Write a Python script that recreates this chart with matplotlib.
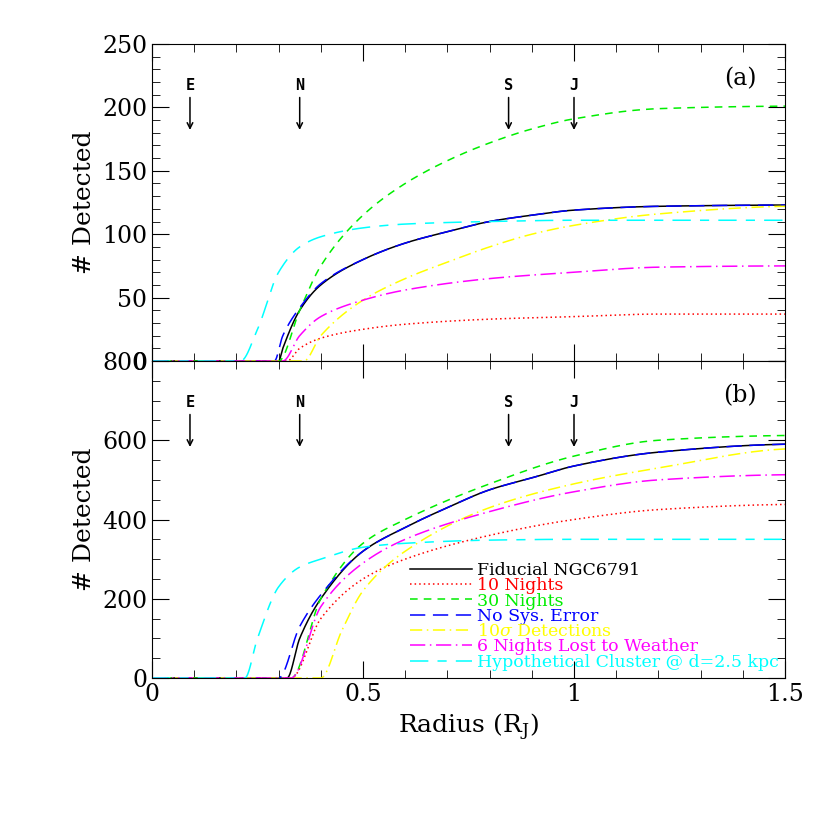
import numpy as np
import matplotlib
matplotlib.use("Agg")
import matplotlib.pyplot as plt
from matplotlib.ticker import MultipleLocator

plt.rcParams["font.family"] = "DejaVu Serif"
plt.rcParams["mathtext.fontset"] = "dejavuserif"

labels = ["Fiducial NGC6791", "10 Nights", "30 Nights", "No Sys. Error",
          r"10$\sigma$ Detections", "6 Nights Lost to Weather",
          "Hypothetical Cluster @ d=2.5 kpc"]
colors = ["black", "red", "#00ee00", "blue", "yellow", "magenta", "cyan"]
styles = ["-", (0, (1, 2)), (0, (5, 4)), (0, (10, 5)), (0, (8, 3, 1, 3)), (0, (10, 3, 1, 3)), (0, (12, 6, 6, 6))]

a_x = [
    [0, 0.30, 0.31, 0.35, 0.4, 0.5, 0.6, 0.7, 0.8, 0.9, 1.0, 1.2, 1.5],
    [0, 0.32, 0.35, 0.4, 0.5, 0.6, 0.8, 1.0, 1.2, 1.5],
    [0, 0.30, 0.35, 0.4, 0.5, 0.6, 0.7, 0.8, 0.9, 1.0, 1.2, 1.5],
    [0, 0.29, 0.31, 0.35, 0.4, 0.5, 0.6, 0.7, 0.8, 0.9, 1.0, 1.2, 1.5],
    [0, 0.36, 0.4, 0.5, 0.6, 0.7, 0.8, 0.9, 1.0, 1.2, 1.5],
    [0, 0.31, 0.35, 0.4, 0.5, 0.6, 0.8, 1.0, 1.2, 1.5],
    [0, 0.21, 0.25, 0.3, 0.35, 0.4, 0.5, 0.6, 0.8, 1.0, 1.5],
]
a_y = [
    [0, 0, 10, 40, 60, 80, 93, 102, 110, 115, 119, 122, 123],
    [0, 0, 10, 18, 25, 29, 33, 35, 37, 37],
    [0, 0, 40, 75, 115, 140, 158, 172, 183, 191, 199, 201],
    [0, 0, 20, 42, 61, 80, 93, 102, 110, 115, 119, 122, 123],
    [0, 0, 20, 48, 65, 78, 90, 100, 107, 116, 122],
    [0, 0, 20, 35, 48, 56, 65, 70, 74, 75],
    [0, 0, 25, 70, 90, 98, 105, 108, 110, 111, 111],
]
b_x = [
    [0, 0.32, 0.35, 0.4, 0.5, 0.6, 0.7, 0.8, 0.9, 1.0, 1.2, 1.5],
    [0, 0.33, 0.4, 0.5, 0.6, 0.8, 1.0, 1.2, 1.5],
    [0, 0.33, 0.4, 0.5, 0.6, 0.8, 1.0, 1.2, 1.5],
    [0, 0.30, 0.35, 0.4, 0.5, 0.6, 0.7, 0.8, 0.9, 1.0, 1.2, 1.5],
    [0, 0.40, 0.45, 0.5, 0.6, 0.8, 1.0, 1.2, 1.5],
    [0, 0.33, 0.4, 0.5, 0.6, 0.8, 1.0, 1.2, 1.5],
    [0, 0.22, 0.25, 0.3, 0.35, 0.4, 0.5, 0.6, 0.8, 1.0, 1.5],
]
b_y = [
    [0, 0, 100, 200, 320, 380, 430, 475, 505, 535, 570, 590],
    [0, 0, 150, 250, 300, 360, 400, 425, 438],
    [0, 0, 200, 340, 400, 490, 560, 600, 612],
    [0, 0, 130, 210, 320, 380, 430, 475, 505, 535, 570, 590],
    [0, 0, 120, 220, 320, 430, 490, 530, 578],
    [0, 0, 180, 290, 350, 420, 470, 500, 513],
    [0, 0, 100, 230, 280, 300, 330, 340, 348, 350, 350],
]
arrow_x = [0.09, 0.35, 0.845, 1.0]
arrow_lbl = ["E", "N", "S", "J"]

def pchip(x, y, xs):
    x = np.asarray(x, float); y = np.asarray(y, float)
    h = np.diff(x); d = np.diff(y) / h
    m = np.zeros_like(y)
    for k in range(1, len(x) - 1):
        if d[k-1] * d[k] > 0:
            w1 = 2*h[k] + h[k-1]; w2 = h[k] + 2*h[k-1]
            m[k] = (w1 + w2) / (w1/d[k-1] + w2/d[k])
    m[-1] = d[-1] * 0.3 if d[-1] > 0 else 0
    idx = np.clip(np.searchsorted(x, xs) - 1, 0, len(x) - 2)
    t = (xs - x[idx]) / h[idx]
    h00 = 2*t**3 - 3*t**2 + 1; h10 = t**3 - 2*t**2 + t
    h01 = -2*t**3 + 3*t**2; h11 = t**3 - t**2
    return h00*y[idx] + h10*h[idx]*m[idx] + h01*y[idx+1] + h11*h[idx]*m[idx+1]

fig = plt.figure(figsize=(8.3, 8.3), dpi=100)
W, H = 830, 830
axa = fig.add_axes([152/W, 1-361/H, 633/W, 317/H])
axb = fig.add_axes([152/W, 1-678/H, 633/W, 317/H])

xs = np.linspace(0, 1.5, 900)
for ax, X, Y, ymax, ymaj, ymin, tag in [(axa, a_x, a_y, 250, 50, 10, "(a)"),
                                         (axb, b_x, b_y, 800, 200, 50, "(b)")]:
    for i in range(7):
        ax.plot(xs, pchip(X[i], Y[i], xs), color=colors[i], ls=styles[i], lw=1.1, label=labels[i])
    ax.set_xlim(0, 1.5)
    ax.set_ylim(0, ymax)
    ax.xaxis.set_major_locator(MultipleLocator(0.5))
    ax.xaxis.set_minor_locator(MultipleLocator(0.1))
    ax.yaxis.set_major_locator(MultipleLocator(ymaj))
    ax.yaxis.set_minor_locator(MultipleLocator(ymin))
    ax.tick_params(which="both", direction="in", top=True, right=True, labelsize=17)
    ax.tick_params(which="major", length=12)
    ax.tick_params(which="minor", length=6)
    ax.set_ylabel("# Detected", fontsize=18)
    ax.text(0.955, 0.89, tag, transform=ax.transAxes, ha="right", va="center", fontsize=17)
    for xv, lb in zip(arrow_x, arrow_lbl):
        ax.text(xv, 0.87*ymax, lb, ha="center", va="center", fontsize=11,
                family="DejaVu Sans Mono", fontweight="bold")
        ax.annotate("", xy=(xv, 0.72*ymax), xytext=(xv, 0.84*ymax),
                    arrowprops=dict(arrowstyle="->", color="black", lw=1.1))

axa.tick_params(labelbottom=False)
axb.set_xticks([0, 0.5, 1, 1.5])
axb.set_xticklabels(["0", "0.5", "1", "1.5"])
axb.set_xlabel(r"Radius (R$_\mathrm{J}$)", fontsize=18)
fig.canvas.draw()
axa.get_yticklabels()[0].set_va("bottom")
axb.get_yticklabels()[-1].set_va("top")
leg = axb.legend(loc="lower right", bbox_to_anchor=(1.01, -0.015), frameon=False,
                 fontsize=12.5, handlelength=3.6, labelspacing=-0.1, borderpad=0.2,
                 handletextpad=0.3)
for t, c in zip(leg.get_texts(), colors):
    t.set_color(c)

fig.savefig("out.png", dpi=100)
